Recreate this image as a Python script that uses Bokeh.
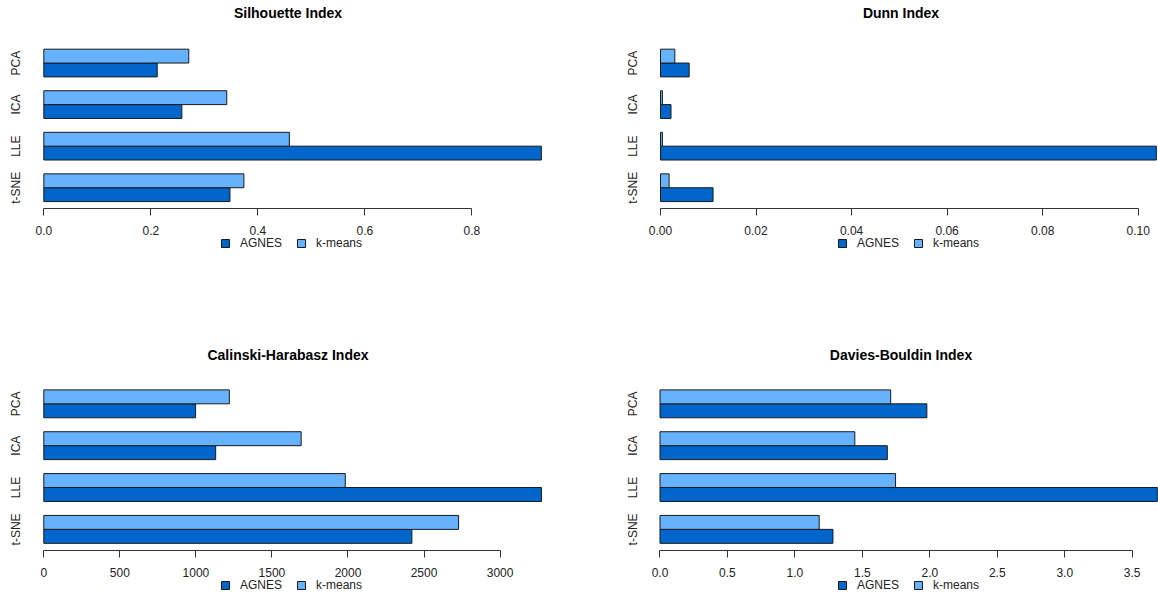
from bokeh.plotting import figure
from bokeh.layouts import column, row
from bokeh.models import (ColumnDataSource, Range1d, FixedTicker,
                          Legend, LegendItem)
from bokeh.transform import dodge
from bokeh.embed import file_html
from bokeh.resources import INLINE

# Dimensionality-reduction methods, listed top to bottom as drawn
methods = ["PCA", "ICA", "LLE", "t-SNE"]
series_names = ["AGNES", "k-means"]

# Silhouette index per method
silhouette_agnes = [0.212, 0.258, 0.930, 0.348]
silhouette_kmeans = [0.271, 0.342, 0.459, 0.374]

# Dunn index per method
dunn_agnes = [0.0060, 0.0022, 0.1038, 0.0110]
dunn_kmeans = [0.0030, 0.0004, 0.0004, 0.0018]

# Calinski-Harabasz index per method
calinski_agnes = [998, 1130, 3272, 2420]
calinski_kmeans = [1220, 1692, 1982, 2727]

# Davies-Bouldin index per method
davies_agnes = [1.978, 1.685, 3.686, 1.282]
davies_kmeans = [1.710, 1.444, 1.746, 1.180]

# Axis ticks and their labels
silhouette_ticks = [0, 0.2, 0.4, 0.6, 0.8]
silhouette_tick_labels = ["0.0", "0.2", "0.4", "0.6", "0.8"]
dunn_ticks = [0, 0.02, 0.04, 0.06, 0.08, 0.1]
dunn_tick_labels = ["0.00", "0.02", "0.04", "0.06", "0.08", "0.10"]
calinski_ticks = [0, 500, 1000, 1500, 2000, 2500, 3000]
calinski_tick_labels = ["0", "500", "1000", "1500", "2000", "2500", "3000"]
davies_ticks = [0, 0.5, 1, 1.5, 2, 2.5, 3, 3.5]
davies_tick_labels = ["0.0", "0.5", "1.0", "1.5", "2.0", "2.5", "3.0", "3.5"]

FONT = "Liberation Sans"
AGNES_COLOR = "#0066CC"
KMEANS_COLOR = "#66B2FF"
EDGE = "#1a1a1a"

# each method owns one unit band on the category axis (first method on top);
# its two bars share the middle two thirds of the band
n = len(methods)
group_centers = [n - 1 - k + 0.5 for k in range(n)]


def bar_panel(title, agnes, kmeans, ticks, tick_labels, x_range, y_range,
              border, size, legend_xy, title_standoff, title_offset=0):
    b_left, b_right, b_top = border
    w, h = size
    p = figure(
        title=title,
        x_range=Range1d(*x_range), y_range=Range1d(*y_range),
        width=w, height=h,
        min_border_left=b_left, min_border_right=b_right,
        min_border_top=b_top, min_border_bottom=0,
        output_backend="svg", toolbar_location=None,
        background_fill_color="white", border_fill_color="white",
    )
    p.outline_line_color = None
    p.xgrid.visible = False
    p.ygrid.visible = False

    src = ColumnDataSource(dict(center=group_centers, agnes=agnes, kmeans=kmeans))
    r_ag = p.hbar(y=dodge("center", -1 / 6), left=0, right="agnes",
                  height=1 / 3, source=src,
                  fill_color=AGNES_COLOR, line_color=EDGE, line_width=1)
    r_km = p.hbar(y=dodge("center", 1 / 6), left=0, right="kmeans",
                  height=1 / 3, source=src,
                  fill_color=KMEANS_COLOR, line_color=EDGE, line_width=1)

    # title
    p.title.text_font = FONT
    p.title.text_font_size = "14px"
    p.title.text_font_style = "bold"
    p.title.text_color = "black"
    p.title.align = "center"
    p.title.offset = title_offset
    p.title.standoff = title_standoff

    # value axis, pinned just under the lowest band and drawn only
    # between the first and last tick
    xa = p.xaxis[0]
    xa.fixed_location = 0
    xa.ticker = FixedTicker(ticks=ticks)
    xa.major_label_overrides = dict(zip(ticks, tick_labels))
    xa.bounds = (ticks[0], ticks[-1])
    xa.minor_tick_line_color = None
    xa.major_tick_in = 0
    xa.major_tick_out = 7
    xa.axis_line_color = "#333333"
    xa.major_tick_line_color = "#333333"
    xa.major_label_standoff = 11
    xa.major_label_text_font = FONT
    xa.major_label_text_font_size = "12px"
    xa.major_label_text_color = "#222222"

    # category axis: method names only
    ya = p.yaxis[0]
    ya.ticker = FixedTicker(ticks=group_centers)
    ya.major_label_overrides = dict(zip(group_centers, methods))
    ya.axis_line_color = None
    ya.major_tick_line_color = None
    ya.minor_tick_line_color = None
    ya.major_tick_in = 0
    ya.major_tick_out = 0
    ya.major_label_orientation = "vertical"
    ya.major_label_standoff = 3
    ya.major_label_text_font = FONT
    ya.major_label_text_font_size = "12px"
    ya.major_label_text_color = "#222222"

    # series key under the tick labels
    legend = Legend(
        items=[LegendItem(label=series_names[0], renderers=[r_ag]),
               LegendItem(label=series_names[1], renderers=[r_km])],
        orientation="horizontal", location=legend_xy,
        glyph_width=10, glyph_height=10, label_standoff=10, spacing=14,
        padding=0, margin=0, label_height=14,
        border_line_color=None, background_fill_alpha=0,
        label_text_font=FONT, label_text_font_size="12px",
        label_text_color="#222222",
    )
    p.add_layout(legend)
    return p


TOP_Y = (-2.1174, 4.4754)      # frame rows 22..296, band unit 41.56 px
BOTTOM_Y = (-1.0323, 4.3919)   # frame rows 70..297, band unit 41.85 px

p1 = bar_panel("Silhouette Index", silhouette_agnes, silhouette_kmeans,
               silhouette_ticks, silhouette_tick_labels, (-0.03234, 0.94523),
               TOP_Y, (26, 30, 22), (579, 296), (194, 46), 3)
p2 = bar_panel("Dunn Index", dunn_agnes, dunn_kmeans,
               dunn_ticks, dunn_tick_labels, (-0.003559, 0.10425),
               TOP_Y, (64, 0, 22), (579, 296), (194, 46), 3, title_offset=4)
p3 = bar_panel("Calinski-Harabasz Index", calinski_agnes, calinski_kmeans,
               calinski_ticks, calinski_tick_labels, (-113.7, 3324.8),
               BOTTOM_Y, (26, 30, 70), (579, 297), (194, 1), 8)
p4 = bar_panel("Davies-Bouldin Index", davies_agnes, davies_kmeans,
               davies_ticks, davies_tick_labels, (-0.1223, 3.695),
               BOTTOM_Y, (64, 0, 70), (579, 297), (194, 1), 8, title_offset=4)

layout = column(row(p1, p2), row(p3, p4))

open("out.html", "w").write(file_html(layout, INLINE))
